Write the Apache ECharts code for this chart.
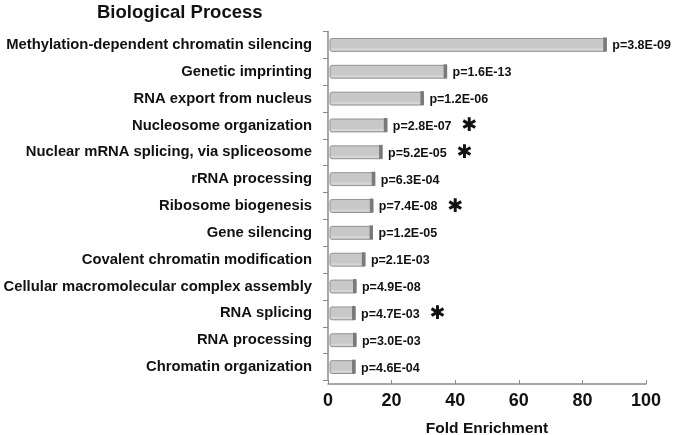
<!DOCTYPE html>
<html>
<head>
<meta charset="utf-8">
<script src="https://cdn.jsdelivr.net/npm/echarts@6/dist/echarts.min.js"></script>
<style>html,body{margin:0;padding:0;background:#fff}#c{width:673px;height:435px}</style>
</head>
<body>
<div id="c"></div>
<script>
const categories = [
  'Methylation-dependent chromatin silencing',
  'Genetic imprinting',
  'RNA export from nucleus',
  'Nucleosome organization',
  'Nuclear mRNA splicing, via spliceosome',
  'rRNA processing',
  'Ribosome biogenesis',
  'Gene silencing',
  'Covalent chromatin modification',
  'Cellular macromolecular complex assembly',
  'RNA splicing',
  'RNA processing',
  'Chromatin organization'
];
const foldEnrichment = [87.5, 37.3, 30, 18.5, 17, 14.7, 14.1, 14, 11.6, 8.8, 8.5, 8.8, 8.5];
const pValues = ['p=3.8E-09','p=1.6E-13','p=1.2E-06','p=2.8E-07','p=5.2E-05','p=6.3E-04','p=7.4E-08','p=1.2E-05','p=2.1E-03','p=4.9E-08','p=4.7E-03','p=3.0E-03','p=4.6E-04'];
const significant = [false,false,false,true,true,false,true,false,false,false,true,false,false];
const xTicks = [0, 20, 40, 60, 80, 100];

const FONT = '"Liberation Sans", Arial, sans-serif';
const chart = echarts.init(document.getElementById('c'), null, {renderer: 'canvas'});
const data = foldEnrichment.map((v, i) => [v, i]);

chart.setOption({
  animation: false,
  backgroundColor: '#ffffff',
  title: {
    text: 'Biological Process',
    left: 92, top: -2,
    textStyle: {fontFamily: FONT, fontSize: 18.5, fontWeight: 'bold', color: '#111'}
  },
  grid: {left: 328, right: 27, top: 31.5, bottom: 54.5, containLabel: false, outerBoundsMode: 'none'},
  xAxis: {
    type: 'value', min: xTicks[0], max: xTicks[xTicks.length - 1], interval: 20,
    offset: 3.5,
    name: 'Fold Enrichment', nameLocation: 'middle', nameGap: 37,
    nameTextStyle: {fontFamily: FONT, fontSize: 15.5, fontWeight: 'bold', color: '#111'},
    axisLine: {show: true, lineStyle: {color: '#8a8a8a', width: 1.5}},
    axisTick: {show: true, inside: true, length: 4, lineStyle: {color: '#8a8a8a'}},
    splitLine: {show: false},
    axisLabel: {fontFamily: FONT, fontSize: 18, fontWeight: 'bold', color: '#111', margin: 8}
  },
  yAxis: {
    type: 'category', data: categories, inverse: true,
    axisLine: {show: true, lineStyle: {color: '#8a8a8a', width: 1.5}},
    axisTick: {show: true, length: 5, lineStyle: {color: '#8a8a8a'}},
    axisLabel: {fontFamily: FONT, fontSize: 14.8, fontWeight: 'bold', color: '#111', margin: 16}
  },
  series: [{
    type: 'custom',
    data: data,
    encode: {x: 0, y: 1},
    renderItem: function (params, api) {
      const v = api.value(0), i = api.value(1);
      const s = api.coord([0, i]);
      const e = api.coord([v, i]);
      const h = api.size([0, 1])[1] * 0.48;
      const y0 = e[1] - h / 2;
      const x0 = s[0] + 2;
      const w = e[0] - x0;
      const label = significant[i]
        ? '{p|' + pValues[i] + '}{s|✱}'
        : '{p|' + pValues[i] + '}';
      return {
        type: 'group',
        children: [
          {type: 'rect', shape: {x: x0, y: y0, width: w, height: h, r: [2, 0, 0, 2]},
           style: {fill: '#c8c8c8', stroke: '#929292', lineWidth: 1}},
          {type: 'rect', shape: {x: x0 + 1, y: y0 + h - 3, width: w - 2, height: 2},
           style: {fill: '#d6d6d6'}},
          {type: 'rect', shape: {x: e[0] - 3, y: y0 - 1, width: 3.5, height: h + 1},
           style: {fill: '#7a7a7a'}},
          {type: 'text', x: e[0] + 6, y: e[1] + 1,
           style: {
             text: label, verticalAlign: 'middle', align: 'left',
             rich: {
               p: {fontFamily: FONT, fontSize: 12.5, fontWeight: 'bold', fill: '#111'},
               s: {fontFamily: '"DejaVu Sans", sans-serif', fontSize: 19, fontWeight: 'bold', fill: '#111', padding: [0, 0, 0, 10]}
             }
           }}
        ]
      };
    }
  }]
});
</script>
</body>
</html>
